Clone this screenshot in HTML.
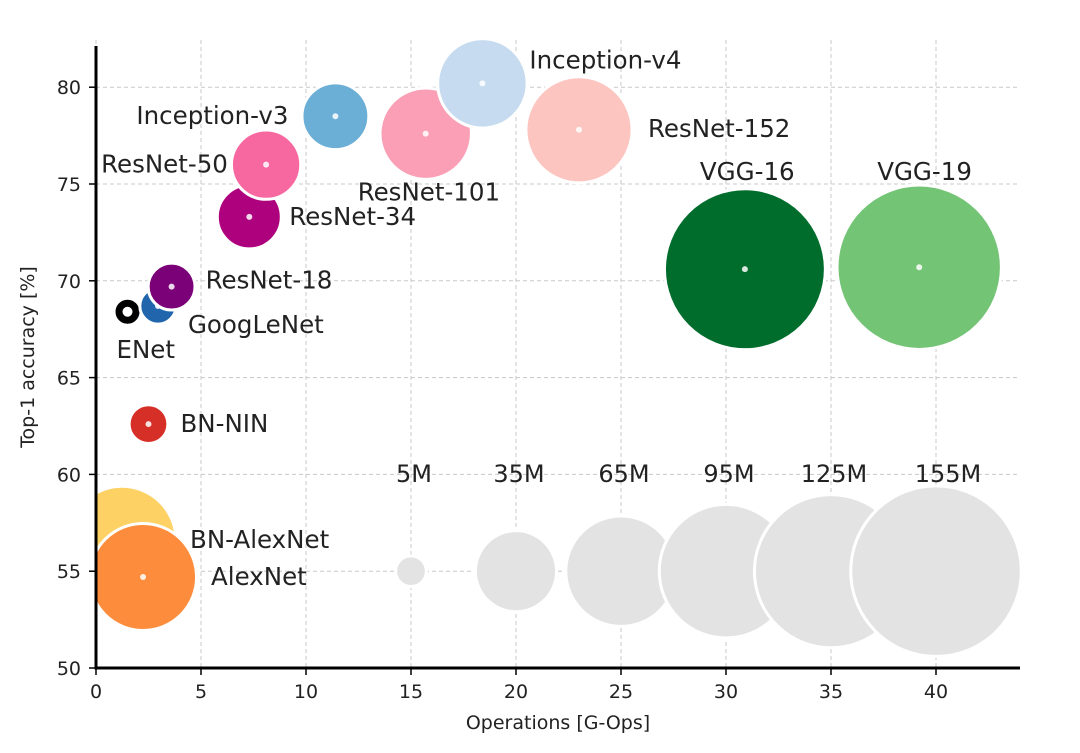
<!DOCTYPE html>
<html><head><meta charset="utf-8">
<style>
body{margin:0;background:#fff;}
svg{display:block;font-family:"DejaVu Sans","Liberation Sans",sans-serif;}
</style></head>
<body>
<svg id="chart" width="1080" height="753">
<defs><clipPath id="plotclip"><rect x="96" y="40" width="930" height="628"/></clipPath></defs>
<g id="grid"></g>
<g id="bubbles" clip-path="url(#plotclip)"></g>
<g id="labels"></g>
<g id="axes"></g>
</svg>
<script>
const names = ["BN-AlexNet","AlexNet","BN-NIN","ENet","GoogLeNet","ResNet-18","ResNet-34","ResNet-50","Inception-v3","ResNet-101","Inception-v4","ResNet-152","VGG-16","VGG-19"];
const ops = [1.24,2.24,2.5,1.5,2.95,3.6,7.3,8.1,11.4,15.7,18.4,23.0,30.9,39.2];
const acc = [56.6,54.7,62.6,68.4,68.7,69.7,73.3,76.0,78.5,77.6,80.2,77.8,70.6,70.7];
const params = [62,61,8,0.4,7,11.7,21.8,25.6,23.8,44.5,42.7,60,138,144];
const colors = ["#fed165","#fd8d3c","#d62f27","#000000","#2166ac","#7a0177","#ae017e","#f768a1","#6baed6","#fa9fb5","#c6dbef","#fcc5c0","#006d2c","#74c476"];
const labelDx = [68,68,32,-11,30,34,40,-165,-199,-68,47,69,-45,-42];
const labelDy = [0,0,0,38,19,-6,0,0,0,59,-23,-1,-97,-95];
const legendSizes = [5,35,65,95,125,155];
const legendX = [15,20,25,30,35,40];
const legendY = 55;
const xTicks = [0,5,10,15,20,25,30,35,40];
const yTicks = [50,55,60,65,70,75,80];

const X = v => 96 + v*21;
const Y = v => 668 - (v-50)*19.36;
const R = m => 6.85*Math.sqrt(m);
const NS = "http://www.w3.org/2000/svg";
function mk(tag, attrs, parent){const e=document.createElementNS(NS,tag);for(const k in attrs)e.setAttribute(k,attrs[k]);parent.appendChild(e);return e;}
const grid=document.getElementById('grid'), bub=document.getElementById('bubbles'), lab=document.getElementById('labels'), ax=document.getElementById('axes');

xTicks.forEach(t=>{
  const l=mk('line',{x1:X(t),x2:X(t),y1:40,y2:668,stroke:'#c8c8c8','stroke-dasharray':'4,3','stroke-width':1},grid);
  
  
  const tk=mk('line',{x1:X(t),x2:X(t),y1:668,y2:675,stroke:'#000','stroke-width':1.5},ax);
  
  
  const tx=mk('text',{x:X(t),y:698,'text-anchor':'middle','font-size':19,fill:'#222'},ax);
  tx.textContent=t;
  
  
});
yTicks.forEach(t=>{
  const l=mk('line',{x1:96,x2:1020,y1:Y(t),y2:Y(t),stroke:'#c8c8c8','stroke-dasharray':'4,3','stroke-width':1},grid);
  
  
  const tk=mk('line',{x1:89,x2:96,y1:Y(t),y2:Y(t),stroke:'#000','stroke-width':1.5},ax);
  
  
  const tx=mk('text',{x:81,y:Y(t)+7,'text-anchor':'end','font-size':19,fill:'#222'},ax);
  tx.textContent=t;
  
  
});

legendSizes.forEach((s,i)=>{
  const c=mk('circle',{cx:X(legendX[i]),cy:Y(legendY),r:R(s),fill:'#e3e3e3',stroke:'#fff','stroke-width':3},bub);
  
  
  const t=mk('text',{x:X(legendX[i])+(i===5?12:3),y:482,'text-anchor':'middle','font-size':24,fill:'#222'},lab);
  t.textContent=s+'M';
  
  
});

names.forEach((n,i)=>{
  const cx=X(ops[i]), cy=Y(acc[i]);
  if(n==='ENet'){
    const c=mk('circle',{cx:cx,cy:cy,r:13,fill:'#000',stroke:'#fff','stroke-width':2},bub);
    
    
    const d=mk('circle',{cx:cx,cy:cy,r:5,fill:'#fff'},bub);
    
    
  } else {
    const c=mk('circle',{cx:cx,cy:cy,r:R(params[i]),fill:colors[i],stroke:'#fff','stroke-width':3},bub);
    
    
    const d=mk('circle',{cx:cx,cy:cy,r:3,fill:'#fff','fill-opacity':0.85},bub);
    
    
  }
  const t=mk('text',{x:cx+labelDx[i],y:cy+labelDy[i]+8,'font-size':24.5,fill:'#222'},lab);
  t.textContent=n;
  
  
});

const ls=mk('line',{x1:96,x2:96,y1:46,y2:669.5,stroke:'#000','stroke-width':3},ax);


const bs=mk('line',{x1:94.5,x2:1020,y1:668,y2:668,stroke:'#000','stroke-width':3},ax);


const xt=mk('text',{x:558,y:729,'text-anchor':'middle','font-size':19,fill:'#222'},ax);
xt.textContent='Operations [G-Ops]';


const yt=mk('text',{x:0,y:0,'text-anchor':'middle','font-size':19,fill:'#222',transform:'translate(34,357) rotate(-90)'},ax);
yt.textContent='Top-1 accuracy [%]';


</script>
</body></html>
